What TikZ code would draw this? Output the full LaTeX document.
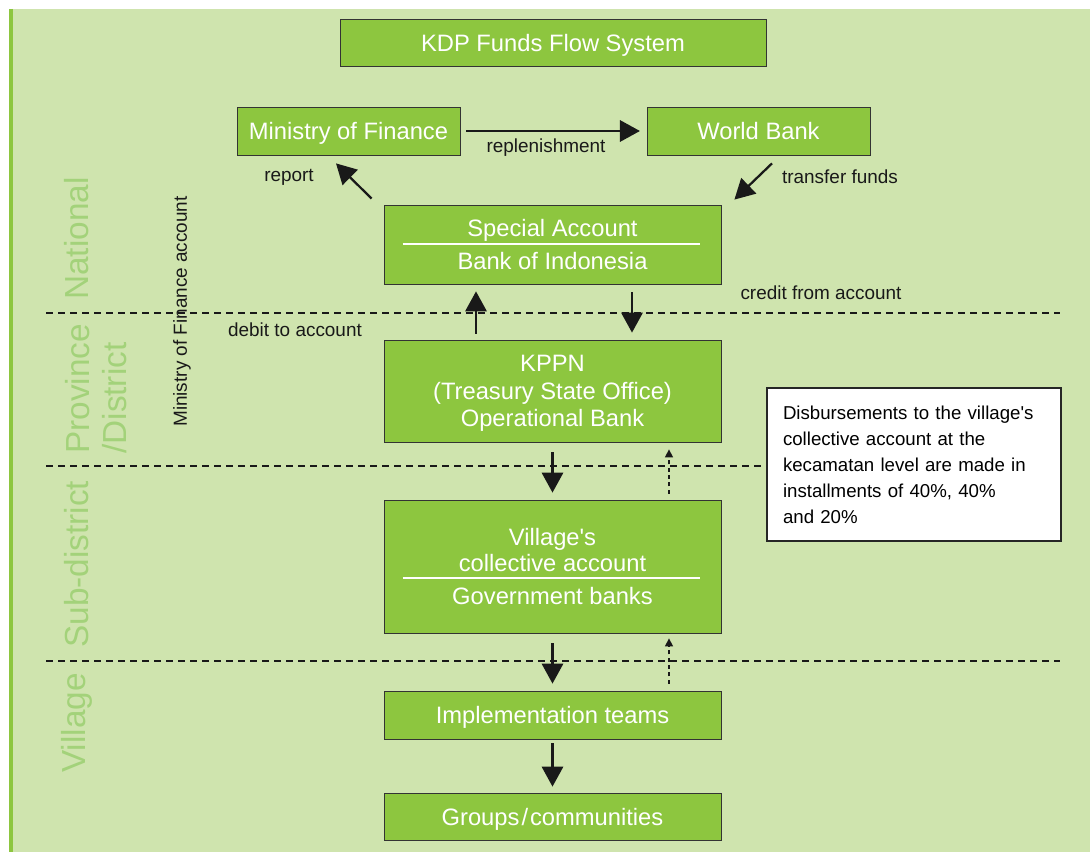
\documentclass[tikz,border=0pt]{standalone}
\usepackage{fontspec}
\setmainfont{Liberation Sans}
\usepackage{xcolor}
\usepackage{tikz}
\usetikzlibrary{arrows.meta}
\definecolor{kdpgreen}{HTML}{8DC63F}
\definecolor{kdpbg}{HTML}{CFE4AE}
\definecolor{kdplevel}{HTML}{A3D27A}

\begin{document}
\begin{tikzpicture}[
  x=0.75pt, y=-0.75pt,
  box/.style={draw=black!80, line width=0.6pt, fill=kdpgreen, text=white, align=center, inner sep=0pt,
    font=\fontsize{17.8}{20}\selectfont, minimum width=252.75pt, text depth=0pt},
  lbl/.style={font=\fontsize{14.2}{17}\selectfont, text=black!90, inner sep=0pt},
  lvl/.style={font=\fontsize{25}{28}\selectfont, text=kdplevel, rotate=90, anchor=west, inner sep=0pt, align=left},
  note/.style={draw=black!85, line width=1pt, fill=white, align=left, inner xsep=12pt, text width=196.5pt,
    minimum height=114.75pt, font=\fontsize{14}{19.5}\selectfont},
  arr/.style={-{Triangle[length=15pt,width=16pt]}, line width=1.7pt, black!90},
  darr/.style={-{Triangle[length=6pt,width=6pt]}, line width=1.1pt, dash pattern=on 3pt off 2.5pt, black!90},
  lvlline/.style={line width=1.5pt, dash pattern=on 5.5pt off 3.5pt, black!90},
  rulew/.style={white, line width=1.5pt}
]
\useasboundingbox (0,0) rectangle (1090,852);
\fill[kdpbg] (10,9) rectangle (1090,852);
\draw[kdpgreen, line width=2.4pt] (11,9) -- (11,852);

\draw[lvlline] (46,313) -- (1060,313);
\draw[lvlline] (46,466) -- (1060,466);
\draw[lvlline] (46,661) -- (1060,661);

\node[lvl] (lnat) at (77,300) {National};
\node[lvl] (lprov) at (96,454) {Province\\/District};
\node[lvl] (lsub) at (77,648) {Sub-district};
\node[lvl] (lvil) at (77,773) {Village};
\node[lbl, rotate=90, anchor=west] (lmofacc) at (182,427) {Ministry of Finance account};

\node[box, minimum width=319.5pt, minimum height=35.25pt] (title) at (553,42.5) {KDP Funds Flow System};
\node[box, minimum width=167.25pt, minimum height=36pt] (mof) at (348.5,131) {Ministry of Finance};
\node[box, minimum width=167.25pt, minimum height=36pt] (wb) at (758.5,131) {World Bank};
\node[box, minimum height=59.25pt] (sa) at (552.5,244.5) {Special Account\\[5pt]Bank of Indonesia};
\node[box, minimum height=76.5pt, font=\fontsize{17.8}{20.6}\selectfont] (kppn) at (552.5,391)
  {KPPN\\(Treasury State Office)\\Operational Bank};
\node[box, minimum height=99.75pt, font=\fontsize{17.8}{19.5}\selectfont] (vca) at (552.5,566.5)
  {Village\textquotesingle s\\collective account\\[5pt]Government banks};
\node[box, minimum height=36pt] (impl) at (552.5,715) {Implementation teams};
\node[box, minimum height=35.25pt] (grp) at (552.5,816.5) {Groups\kern1.5pt/\kern1.5pt communities};

\draw[rulew] ([shift={(19,-0.5)}]sa.west) -- ([shift={(-21,-0.5)}]sa.east);
\draw[rulew] ([shift={(19,11.5)}]vca.west) -- ([shift={(-21,11.5)}]vca.east);

\node[note] (note) at (914,464.5) {Disbursements to the village\textquotesingle s\\collective account at the\\kecamatan level are made in\\installments of 40\%, 40\%\\and 20\%};

\node[lbl] (lrepl) at (546,148) {replenishment};
\node[lbl] (lrep) at (289,177) {report};
\node[lbl] (ltrans) at (840,177) {transfer funds};
\node[lbl] (ldebit) at (295,330) {debit to account};
\node[lbl] (lcredit) at (821,293) {credit from account};

\draw[arr, shorten <=4.5pt, shorten >=5pt] (mof.east) -- (wb.west);
\draw[arr] ([shift={(-12,-6)}]sa.north west) -- ([shift={(-12.5,8)}]mof.south);
\draw[arr] ([shift={(13.5,8)}]wb.south) -- ([shift={(13,-5)}]sa.north east);
\draw[arr] ([shift={(-76.5,-6)}]kppn.north) -- ([shift={(-76.5,7)}]sa.south);
\draw[arr] ([shift={(79.5,8)}]sa.south) -- ([shift={(79.5,-7)}]kppn.north);
\draw[arr] ([shift={(0,10)}]kppn.south) -- ([shift={(0,-7)}]vca.north);
\draw[darr] ([shift={(116.5,-6)}]vca.north) -- ([shift={(116.5,7)}]kppn.south);
\draw[arr] ([shift={(0,10)}]vca.south) -- ([shift={(0,-7)}]impl.north);
\draw[darr] ([shift={(116.5,-7)}]impl.north) -- ([shift={(116.5,5)}]vca.south);
\draw[arr] ([shift={(0,4)}]impl.south) -- ([shift={(0,-6)}]grp.north);
\end{tikzpicture}
\end{document}
